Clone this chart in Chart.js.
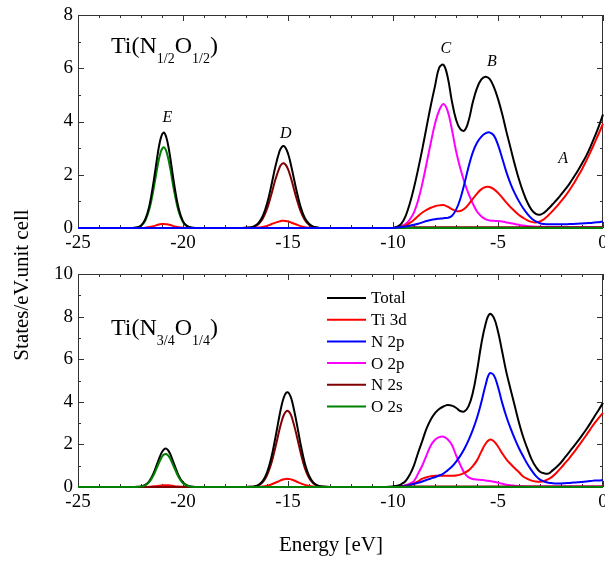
<!DOCTYPE html>
<html><head><meta charset="utf-8">
<script src="https://cdn.jsdelivr.net/npm/chart.js@4.4.1/dist/chart.umd.min.js"></script>
<style>
html,body{margin:0;padding:0;background:#fff;}
#wrap{position:relative;width:605px;height:561px;overflow:hidden;background:#fff;}
canvas{position:absolute;left:0;top:0;}
</style></head><body>
<div id="wrap"><canvas id="cTop" width="605" height="561"></canvas><canvas id="cBot" width="605" height="561"></canvas></div>
<script>
// ---------- DATA ----------
const energy = [
 -25,-23.0,-22.4,-22.2,-22.0,-21.8,-21.6,-21.4,-21.2,-21.1,-21.0,-20.9,-20.8,-20.7,-20.6,-20.4,-20.2,-20.0,-19.8,-19.6,-19.4,-19.0,
 -17.2,-16.8,-16.6,-16.4,-16.2,-16.0,-15.8,-15.6,-15.4,-15.3,-15.2,-15.1,-15.0,-14.9,-14.8,-14.6,-14.4,-14.2,-14.0,-13.8,-13.6,-13.4,-13.0,-10.6,
 -10.0,-9.8,-9.6,-9.4,-9.2,-9.0,-8.8,-8.6,-8.4,-8.2,-8.0,-7.8,-7.6,-7.4,-7.2,-7.0,-6.8,-6.6,-6.4,-6.2,-6.0,-5.8,-5.6,-5.4,-5.2,-5.0,
 -4.8,-4.6,-4.4,-4.2,-4.0,-3.8,-3.6,-3.4,-3.2,-3.0,-2.8,-2.6,-2.4,-2.2,-2.0,-1.8,-1.6,-1.4,-1.2,-1.0,-0.8,-0.6,-0.4,-0.2,0
];

// Upper panel: Ti(N1/2 O1/2)
const topTotal = [
 0,0,0,0.02,0.09,0.32,0.84,1.74,2.80,3.24,3.51,3.58,3.42,3.08,2.60,1.54,0.71,0.25,0.07,0.02,0,0,
 0,0.02,0.07,0.19,0.45,0.91,1.57,2.31,2.89,3.04,3.08,2.99,2.80,2.51,2.16,1.43,0.80,0.38,0.16,0.05,0.02,0,0,0,
 0,0.05,0.16,0.45,0.92,1.52,2.22,2.98,3.80,4.60,5.33,6.02,6.13,5.68,4.78,4.08,3.72,3.66,4.03,4.72,5.25,5.57,5.68,5.60,5.30,4.85,
 4.28,3.62,3.00,2.38,1.82,1.35,0.96,0.68,0.53,0.50,0.58,0.72,0.89,1.06,1.25,1.45,1.66,1.90,2.15,2.42,2.71,3.05,3.42,3.82,4.27
];
const topTi3d = [
 0,0,0,0,0,0.01,0.04,0.07,0.12,0.14,0.15,0.15,0.14,0.13,0.11,0.06,0.03,0.01,0,0,0,0,
 0,0,0.01,0.02,0.04,0.08,0.14,0.20,0.25,0.27,0.27,0.26,0.25,0.22,0.19,0.13,0.07,0.03,0.01,0,0,0,0,0,
 0,0.02,0.05,0.10,0.19,0.31,0.45,0.58,0.68,0.76,0.82,0.85,0.86,0.80,0.71,0.64,0.64,0.72,0.89,1.09,1.29,1.45,1.54,1.54,1.46,1.32,
 1.14,0.95,0.78,0.63,0.49,0.38,0.29,0.23,0.21,0.25,0.34,0.48,0.64,0.81,1.00,1.20,1.42,1.66,1.93,2.21,2.52,2.85,3.20,3.55,3.92
];
const topN2p = [
 0,0,0,0,0,0,0,0,0,0,0,0,0,0,0,0,0,0,0,0,0,0,
 0,0,0,0,0,0,0,0,0,0,0,0,0,0,0,0,0,0,0,0,0,0,0,0,
 0,0.02,0.04,0.06,0.09,0.12,0.16,0.21,0.26,0.30,0.33,0.35,0.37,0.38,0.45,0.68,1.08,1.66,2.30,2.84,3.20,3.42,3.55,3.59,3.48,3.12,
 2.62,2.10,1.66,1.30,1.00,0.74,0.53,0.36,0.25,0.18,0.15,0.14,0.14,0.14,0.14,0.14,0.15,0.15,0.16,0.17,0.18,0.19,0.21,0.22,0.24
];
const topO2p = [
 0,0,0,0,0,0,0,0,0,0,0,0,0,0,0,0,0,0,0,0,0,0,
 0,0,0,0,0,0,0,0,0,0,0,0,0,0,0,0,0,0,0,0,0,0,0,0,
 0,0.02,0.07,0.15,0.32,0.59,1.05,1.68,2.43,3.20,3.92,4.42,4.66,4.40,3.72,2.90,2.25,1.72,1.28,0.92,0.62,0.44,0.33,0.28,0.27,0.26,
 0.24,0.21,0.18,0.15,0.12,0.09,0.07,0.06,0.05,0.05,0.04,0.04,0.04,0.04,0.03,0.03,0.03,0.03,0.03,0.03,0.03,0.03,0.03,0.03,0.03
];
const topN2s = [
 0,0,0,0,0,0,0,0,0,0,0,0,0,0,0,0,0,0,0,0,0,0,
 0,0.02,0.05,0.15,0.36,0.72,1.24,1.82,2.28,2.40,2.43,2.36,2.21,1.98,1.71,1.13,0.63,0.30,0.12,0.04,0.01,0,0,0,
 0,0.01,0.02,0.03,0.03,0.03,0.03,0.03,0.03,0.03,0.03,0.03,0.03,0.03,0.03,0.03,0.03,0.03,0.03,0.03,0.03,0.03,0.03,0.03,0.03,0.03,
 0.03,0.03,0.03,0.03,0.03,0.03,0.03,0.03,0.03,0.03,0.03,0.03,0.03,0.03,0.03,0.03,0.03,0.03,0.03,0.03,0.03,0.03,0.03,0.03,0.03
];
const topO2s = [
 0,0,0,0.02,0.08,0.27,0.71,1.47,2.37,2.74,2.97,3.03,2.90,2.60,2.20,1.30,0.60,0.22,0.06,0.01,0,0,
 0,0,0,0,0,0,0,0,0,0,0,0,0,0,0,0,0,0,0,0,0,0,0,0,
 0,0,0,0,0,0,0,0,0,0,0,0,0,0,0,0,0,0,0,0,0,0,0,0,0,0,
 0,0,0,0,0,0,0,0,0,0,0,0,0,0,0,0,0,0,0,0,0,0,0,0,0
];

// Lower panel: Ti(N3/4 O1/4)
const botTotal = [
 0,0,0,0.01,0.03,0.10,0.28,0.65,1.17,1.43,1.64,1.77,1.80,1.71,1.53,1.01,0.52,0.21,0.07,0.02,0,0,
 0,0.01,0.03,0.10,0.29,0.68,1.36,2.32,3.38,3.85,4.20,4.41,4.44,4.30,4.00,3.07,2.01,1.12,0.53,0.22,0.07,0.02,0,0,
 0.03,0.06,0.14,0.28,0.58,1.02,1.62,2.18,2.75,3.17,3.47,3.66,3.78,3.85,3.82,3.72,3.57,3.55,3.80,4.42,5.45,6.68,7.62,8.12,7.95,7.30,
 6.35,5.38,4.58,3.80,3.02,2.35,1.80,1.30,0.95,0.72,0.64,0.63,0.78,0.95,1.15,1.40,1.65,1.90,2.15,2.42,2.70,3.00,3.32,3.63,3.95
];
const botTi3d = [
 0,0,0,0,0,0,0.01,0.03,0.05,0.06,0.07,0.08,0.08,0.08,0.07,0.04,0.02,0.01,0,0,0,0,
 0,0,0,0.01,0.02,0.06,0.12,0.20,0.29,0.33,0.36,0.38,0.38,0.37,0.34,0.26,0.17,0.10,0.05,0.02,0.01,0,0,0,
 0,0.01,0.03,0.06,0.11,0.17,0.27,0.39,0.46,0.51,0.53,0.53,0.53,0.53,0.53,0.54,0.58,0.66,0.78,0.98,1.25,1.65,2.02,2.22,2.15,1.90,
 1.58,1.30,1.08,0.88,0.69,0.49,0.38,0.30,0.26,0.25,0.28,0.37,0.50,0.68,0.90,1.13,1.36,1.61,1.88,2.15,2.43,2.72,3.00,3.25,3.48
];
const botN2p = [
 0,0,0,0,0,0,0,0,0,0,0,0,0,0,0,0,0,0,0,0,0,0,
 0,0,0,0,0,0,0,0,0,0,0,0,0,0,0,0,0,0,0,0,0,0,0,0,
 0,0.01,0.03,0.06,0.10,0.15,0.20,0.26,0.33,0.40,0.46,0.54,0.63,0.78,0.95,1.18,1.46,1.80,2.20,2.68,3.25,3.95,4.75,5.33,5.25,4.70,
 3.95,3.30,2.75,2.26,1.82,1.44,1.08,0.78,0.52,0.35,0.26,0.20,0.18,0.17,0.17,0.18,0.19,0.21,0.22,0.24,0.26,0.28,0.30,0.31,0.33
];
const botO2p = [
 0,0,0,0,0,0,0,0,0,0,0,0,0,0,0,0,0,0,0,0,0,0,
 0,0,0,0,0,0,0,0,0,0,0,0,0,0,0,0,0,0,0,0,0,0,0,0,
 0,0.01,0.03,0.08,0.16,0.28,0.64,1.02,1.50,1.95,2.22,2.34,2.36,2.24,1.98,1.50,1.05,0.66,0.45,0.38,0.35,0.33,0.31,0.28,0.25,0.20,
 0.15,0.11,0.08,0.06,0.04,0.03,0.02,0.02,0.02,0.02,0.02,0.02,0.02,0.02,0.02,0.02,0.02,0.02,0.02,0.02,0.02,0.02,0.02,0.02,0.02
];
const botN2s = [
 0,0,0,0,0,0,0,0,0,0,0,0,0,0,0,0,0,0,0,0,0,0,
 0,0.01,0.03,0.08,0.23,0.55,1.09,1.87,2.72,3.09,3.38,3.54,3.57,3.46,3.22,2.47,1.62,0.90,0.43,0.17,0.06,0.02,0,0,
 0,0.01,0.02,0.02,0.02,0.02,0.02,0.02,0.02,0.02,0.02,0.02,0.02,0.02,0.02,0.02,0.02,0.02,0.02,0.02,0.02,0.02,0.02,0.02,0.02,0.02,
 0.02,0.02,0.02,0.02,0.02,0.02,0.02,0.02,0.02,0.02,0.02,0.02,0.02,0.02,0.02,0.02,0.02,0.02,0.02,0.02,0.02,0.02,0.02,0.02,0.02
];
const botO2s = [
 0,0,0,0,0.02,0.08,0.24,0.56,1.01,1.23,1.42,1.53,1.55,1.47,1.31,0.87,0.45,0.18,0.06,0.01,0,0,
 0,0,0,0,0,0,0,0,0,0,0,0,0,0,0,0,0,0,0,0,0,0,0,0,
 0,0,0,0,0,0,0,0,0,0,0,0,0,0,0,0,0,0,0,0,0,0,0,0,0,0,
 0,0,0,0,0,0,0,0,0,0,0,0,0,0,0,0,0,0,0,0,0,0,0,0,0
];

const seriesNames = ['Total','Ti 3d','N 2p','O 2p','N 2s','O 2s'];
const seriesColors = ['#000000','#ff0000','#0000ff','#ff00ff','#800000','#008000'];
const xTicks = [-25,-20,-15,-10,-5,0];
const topYTicks = [0,2,4,6,8];
const botYTicks = [0,2,4,6,8,10];
const peakLabels = ['A','B','C','D','E'];
const peakLabelX = [-1.9,-5.29,-7.48,-15.1,-20.74];
const peakLabelY = [2.44,6.08,6.57,3.38,3.98];

// ---------- CHART ----------
const SERIF = '"Liberation Serif","Times New Roman",serif';
Chart.defaults.font.family = SERIF;

function makeDatasets(series, drawOrder) {
  return series.map((vals, i) => ({
    label: seriesNames[i],
    data: energy.map((e, j) => ({x: e, y: vals[j]})),
    borderColor: seriesColors[i],
    backgroundColor: seriesColors[i],
    borderWidth: 2,
    pointRadius: 0,
    fill: false,
    tension: 0.4,
    order: drawOrder[i],
    clip: 4
  }));
}

function makeScales(yTicks, xAxisHeight) {
  return {
    x: {
      type: 'linear', min: -25, max: 0,
      grid: {display: false, drawTicks: false}, border: {display: false},
      afterBuildTicks(s) { s.ticks = xTicks.map(v => ({value: v})); },
      ticks: {font: {family: SERIF, size: 19}, color: '#000', padding: 4, maxRotation: 0, autoSkip: false,
              callback: v => String(v)},
      afterFit(s) { s.height = xAxisHeight; s.paddingLeft = 0; s.paddingRight = 0; }
    },
    y: {
      type: 'linear', min: yTicks[0], max: yTicks[yTicks.length - 1],
      grid: {display: false, drawTicks: false}, border: {display: false},
      afterBuildTicks(s) { s.ticks = yTicks.map(v => ({value: v})); },
      ticks: {font: {family: SERIF, size: 19}, color: '#000', padding: 5, callback: v => String(v)},
      afterFit(s) { s.width = 78; s.paddingTop = 0; s.paddingBottom = 0; }
    }
  };
}

const framePlugin = {
  id: 'frame',
  beforeDatasetsDraw(chart) {
    const {ctx, chartArea: a} = chart;
    ctx.save();
    ctx.strokeStyle = '#333'; ctx.lineWidth = 1;
    ctx.strokeRect(Math.round(a.left) + 0.5, Math.round(a.top) + 0.5,
                   Math.round(a.right - a.left) - 1, Math.round(a.bottom - a.top) - 1);
    const xs = chart.scales.x, ys = chart.scales.y;
    ctx.beginPath();
    for (let v = xs.min; v <= xs.max; v += 1) {
      const p = Math.round(xs.getPixelForValue(v)) + 0.5;
      const L = (v % 5 === 0) ? 6 : 3;
      ctx.moveTo(p, a.bottom); ctx.lineTo(p, a.bottom - L);
      ctx.moveTo(p, a.top); ctx.lineTo(p, a.top + L);
    }
    for (let v = ys.min; v <= ys.max; v += 1) {
      const p = Math.round(ys.getPixelForValue(v)) + 0.5;
      const L = (v % 2 === 0) ? 6 : 3;
      ctx.moveTo(a.left, p); ctx.lineTo(a.left + L, p);
      ctx.moveTo(a.right, p); ctx.lineTo(a.right - L, p);
    }
    ctx.stroke();
    ctx.restore();
  }
};

function drawFormula(ctx, x, base, parts) {
  let cx = x;
  parts.forEach(([t, sub]) => {
    ctx.font = sub ? '14px ' + SERIF : '24px ' + SERIF;
    ctx.fillText(t, cx, sub ? base + 10 : base);
    cx += ctx.measureText(t).width;
  });
}

const topTextPlugin = {
  id: 'topText',
  afterDraw(chart) {
    const {ctx} = chart;
    const xs = chart.scales.x, ys = chart.scales.y;
    ctx.save();
    ctx.fillStyle = '#000'; ctx.textBaseline = 'alphabetic'; ctx.textAlign = 'left';
    drawFormula(ctx, 111, 53, [['Ti(N', false], ['1/2', true], ['O', false], ['1/2', true], [')', false]]);
    ctx.font = 'italic 16px ' + SERIF; ctx.textAlign = 'center';
    peakLabels.forEach((t, i) => ctx.fillText(t, xs.getPixelForValue(peakLabelX[i]), ys.getPixelForValue(peakLabelY[i])));
    ctx.restore();
  }
};

const botTextPlugin = {
  id: 'botText',
  afterDraw(chart) {
    const {ctx} = chart;
    ctx.save();
    ctx.fillStyle = '#000'; ctx.textBaseline = 'alphabetic'; ctx.textAlign = 'left';
    drawFormula(ctx, 111, 335, [['Ti(N', false], ['3/4', true], ['O', false], ['1/4', true], [')', false]]);
    // legend
    ctx.font = '17px ' + SERIF; ctx.textBaseline = 'middle';
    seriesNames.forEach((n, i) => {
      const y = 298 + i * 21.7;
      ctx.strokeStyle = seriesColors[i]; ctx.lineWidth = 2;
      ctx.beginPath(); ctx.moveTo(327, y); ctx.lineTo(366, y); ctx.stroke();
      ctx.fillText(n, 371, y + 1);
    });
    // axis titles
    ctx.font = '21px ' + SERIF; ctx.textBaseline = 'alphabetic'; ctx.textAlign = 'center';
    ctx.fillText('Energy [eV]', 331, 551);
    ctx.translate(28, 285); ctx.rotate(-Math.PI / 2);
    ctx.fillText('States/eV.unit cell', 0, 0);
    ctx.restore();
  }
};

function baseOptions(yTicks, padding, xH) {
  return {
    responsive: false, animation: false, devicePixelRatio: 1,
    layout: {padding},
    plugins: {legend: {display: false}, tooltip: {enabled: false}},
    scales: makeScales(yTicks, xH)
  };
}

new Chart(document.getElementById('cTop'), {
  type: 'line',
  data: {datasets: makeDatasets([topTotal, topTi3d, topN2p, topO2p, topN2s, topO2s], [2,5,1,6,4,3])},
  options: baseOptions(topYTicks, {top: 15, right: 2, bottom: 311, left: 0}, 22),
  plugins: [framePlugin, topTextPlugin]
});
new Chart(document.getElementById('cBot'), {
  type: 'line',
  data: {datasets: makeDatasets([botTotal, botTi3d, botN2p, botO2p, botN2s, botO2s], [2,5,4,6,3,1])},
  options: baseOptions(botYTicks, {top: 274, right: 2, bottom: 0, left: 0}, 74),
  plugins: [framePlugin, botTextPlugin]
});
</script></body></html>
